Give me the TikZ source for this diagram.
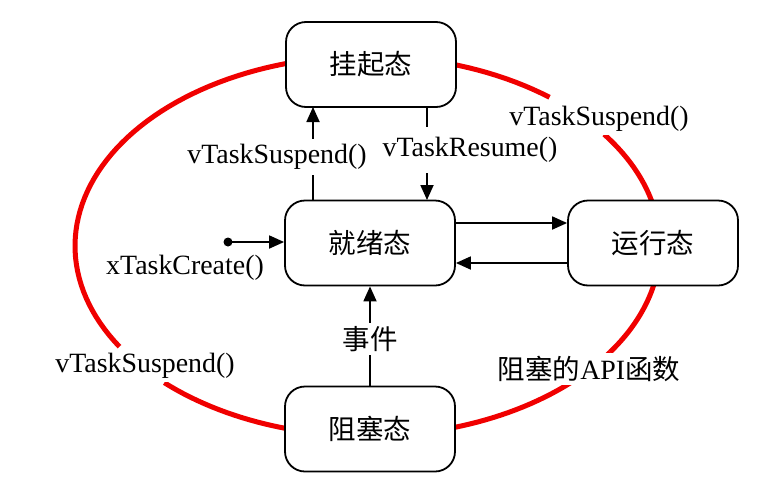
\documentclass[tikz,border=0pt]{standalone}
\usepackage{fontspec}
\setmainfont{Liberation Serif}
\newfontfamily\cjk{Noto Sans CJK SC}
\usetikzlibrary{arrows.meta}
\tikzset{
  statebox/.style={draw=black, line width=1.8pt, fill=white, rounded corners=20pt,
    minimum width=170pt, minimum height=85pt, inner sep=0pt, font=\cjk\fontsize{27.5}{30}\selectfont},
  redline/.style={draw={rgb,255:red,240;green,0;blue,0}, line width=5pt},
  conn/.style={draw=black, line width=1.8pt, -{Triangle[length=15pt,width=13pt]}},
  lbl/.style={fill=white, inner sep=3pt, font=\fontsize{27.9}{30}\selectfont},
  clbl/.style={fill=white, inner sep=3pt, font=\cjk\fontsize{27.5}{30}\selectfont},
}
\begin{document}
\begin{tikzpicture}[x=1pt,y=-1pt]
\useasboundingbox (0,0) rectangle (771,493);
% red ellipse (in pieces)
\draw[redline] plot[domain=51.5:212, samples=80] ({367.5+292.5*cos(\x)},{246-190*sin(\x)});
\draw[redline] plot[domain=226:326, samples=60] ({367.5+292.5*cos(\x)},{246-190*sin(\x)});
\draw[redline] plot[domain=-34:36, samples=50] ({367.5+292.5*cos(\x)},{246-190*sin(\x)});
% states
\node[statebox] (susp) at (371,64.5) {挂起态};
\node[statebox] (ready) at (370,243) {就绪态};
\node[statebox] (run) at (653,243) {运行态};
\node[statebox] (block) at (370,429) {阻塞态};
% connectors
\coordinate (rdA) at (313,200);
\coordinate (suA) at (313,107);
\draw[conn] (rdA) -- (suA);
\coordinate (suB) at (427,107);
\coordinate (rdB) at (427,200);
\draw[conn] (suB) -- (rdB);
\draw[conn] (ready.east |- 0,223) -- (run.west |- 0,223);
\draw[conn] (run.west |- 0,263) -- (ready.east |- 0,263);
\draw[conn] (block.north) -- (ready.south);
\coordinate (start) at (228,242);
\fill (start) circle (4.5pt);
\draw[conn] (start) -- (ready.west |- start);
% labels
\node[lbl, inner ysep=5pt] (l1) at (277,157) {vTaskSuspend()};
\node[lbl, inner ysep=10pt] (l2) at (470,150) {vTaskResume()};
\node[lbl] (l3) at (185,268) {xTaskCreate()};
\node[lbl] (l4) at (145,366) {vTaskSuspend()};
\node[lbl] (l5) at (599,119) {vTaskSuspend()};
\node[clbl, inner xsep=1pt] (l6) at (370,339) {事件};
\node[lbl] (l7) at (589,369) {{\cjk\fontsize{27.5}{30}\selectfont 阻塞的}API{\cjk\fontsize{27.5}{30}\selectfont 函数}};
\end{tikzpicture}
\end{document}
